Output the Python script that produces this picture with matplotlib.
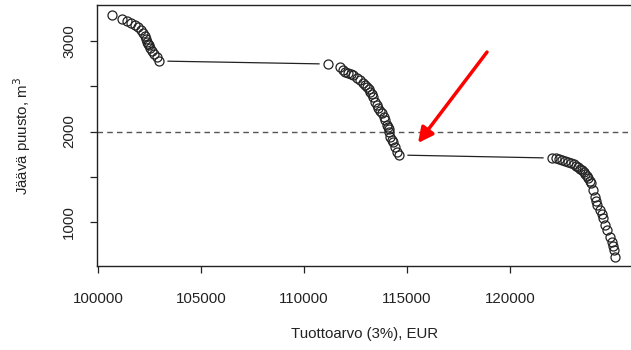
import numpy as np
import matplotlib
matplotlib.use("Agg")
import matplotlib.pyplot as plt

plt.rcParams['font.family'] = ['Liberation Sans', 'DejaVu Sans']

# Net present value (3 %) and remaining growing stock for each cutting alternative
tuottoarvo = [
    # first group
    100680, 101165, 101408, 101602, 101796, 101942, 102087, 102184, 102281,
    102330, 102378, 102430, 102475, 102524, 102621, 102718, 102864, 102961,
    # second group
    111164, 111747, 111892, 112010, 112135, 112260, 112378, 112572, 112720,
    112863, 112960, 113057, 113130, 113203, 113280, 113349, 113446, 113520,
    113592, 113690, 113786, 113860, 113932, 114029, 114080, 114126, 114126,
    114175, 114250, 114320, 114420, 114514, 114611,
    # third group
    122037, 122231, 122377, 122523, 122668, 122814, 122960, 123105, 123202,
    123300, 123397, 123494, 123591, 123639, 123736, 123785, 123882, 123931,
    124027, 124124, 124173, 124221, 124367, 124464, 124513, 124610, 124707,
    124852, 124949, 124998, 125046, 125095,
]
jaava_puusto = [
    # first group
    3287, 3243, 3221, 3199, 3177, 3155, 3122, 3088, 3055,
    3022, 2989, 2970, 2956, 2923, 2890, 2856, 2823, 2779,
    # second group
    2746, 2713, 2680, 2662, 2646, 2635, 2624, 2591, 2565,
    2536, 2515, 2492, 2465, 2436, 2410, 2381, 2326, 2290,
    2260, 2230, 2204, 2165, 2127, 2072, 2050, 2030, 1994,
    1939, 1910, 1884, 1829, 1773, 1740,
    # third group
    1707, 1702, 1696, 1685, 1674, 1663, 1652, 1641, 1624,
    1608, 1591, 1575, 1552, 1530, 1508, 1486, 1453, 1431,
    1354, 1276, 1232, 1188, 1133, 1089, 1044, 967, 912,
    834, 779, 735, 691, 613,
]

x_ticks = [100000, 105000, 110000, 115000, 120000]
y_ticks = [1000, 1500, 2000, 2500, 3000]
y_tick_labels = ["1000", "", "2000", "", "3000"]
raja = 2000
nuoli_alku = (118882, 2878)
nuoli_karki = (115533, 1873)

W, H = 631, 350
fig = plt.figure(figsize=(W / 100, H / 100), dpi=100)
left, right, top, bottom = 97, 632, 5, 266
ax = fig.add_axes([left / W, 1 - bottom / H, (right - left) / W, (bottom - top) / H])
ax.set_xlim(99951, 125920)
ax.set_ylim(514, 3398)

for s in ax.spines.values():
    s.set_linewidth(1.0)
    s.set_color("#222222")

ax.set_xticks(x_ticks)
ax.set_xticklabels([str(v) for v in x_ticks])
ax.set_yticks(y_ticks)
ax.set_yticklabels(y_tick_labels, rotation=90, va="center")
ax.tick_params(axis="both", direction="out", length=5, width=0.9,
               labelsize=10.8, color="#222222", labelcolor="#222222")
ax.tick_params(axis="x", pad=13.5)
ax.tick_params(axis="y", pad=10)

ax.set_xlabel("Tuottoarvo (3%), EUR", fontsize=10.8, color="#222222", labelpad=15)
ax.set_ylabel("Jäävä puusto, m$^3$", fontsize=10.8, color="#222222", labelpad=21)

# threshold line
ax.axhline(raja, color="#555555", lw=1.0, ls=(0, (4, 3)), zorder=1)

# points
ax.plot(tuottoarvo, jaava_puusto, ls="none", marker="o", ms=6.5, mfc="none",
        mec="#222222", mew=0.9, zorder=3)

# connecting lines with gaps around the circles
fig.canvas.draw()
tr = ax.transData
inv = tr.inverted()
pts = tr.transform(np.column_stack([tuottoarvo, jaava_puusto]))
gap = 9.0
for p1, p2 in zip(pts[:-1], pts[1:]):
    d = p2 - p1
    dist = np.hypot(*d)
    if dist > 2 * gap:
        u = d / dist
        a = inv.transform(p1 + gap * u)
        b = inv.transform(p2 - gap * u)
        ax.plot([a[0], b[0]], [a[1], b[1]], color="#222222", lw=0.9, zorder=2)

# arrow
ax.annotate("", xy=nuoli_karki, xytext=nuoli_alku,
            arrowprops=dict(arrowstyle="-|>,head_length=0.9,head_width=0.45",
                            color="red", lw=2.5, shrinkA=0, shrinkB=0))

fig.savefig("out.png", dpi=100)
